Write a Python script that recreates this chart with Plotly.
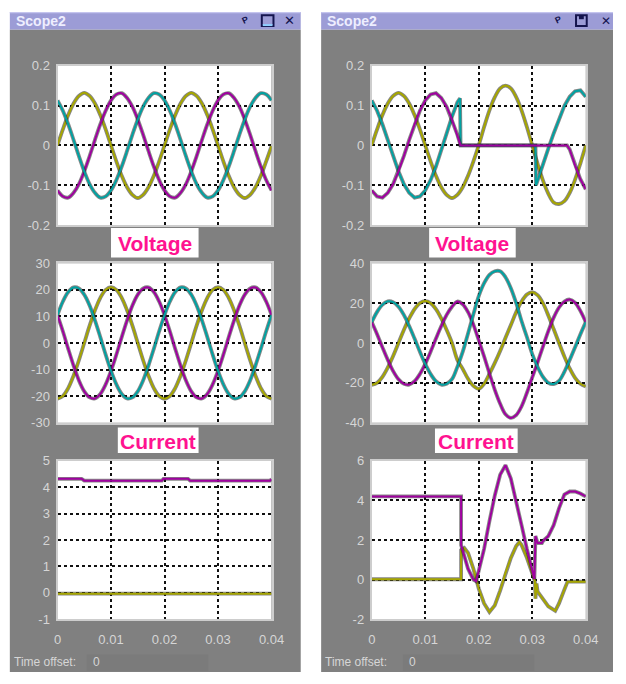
import plotly.graph_objects as go

W, H = 626, 684

# ---------------- data ----------------
T = [0.000, 0.001, 0.002, 0.003, 0.004, 0.005, 0.006, 0.007, 0.008, 0.009,
     0.010, 0.011, 0.012, 0.013, 0.014, 0.015, 0.016, 0.017, 0.018, 0.019,
     0.020, 0.021, 0.022, 0.023, 0.024, 0.025, 0.026, 0.027, 0.028, 0.029,
     0.030, 0.031, 0.032, 0.033, 0.034, 0.035, 0.036, 0.037, 0.038, 0.039,
     0.040]

# Left scope - Voltage
LV_YEL = [0, 0.040, 0.076, 0.105, 0.124, 0.132, 0.124, 0.105, 0.076, 0.040,
          0, -0.040, -0.076, -0.105, -0.124, -0.132, -0.124, -0.105, -0.076, -0.040,
          0, 0.040, 0.076, 0.105, 0.124, 0.132, 0.124, 0.105, 0.076, 0.040,
          0, -0.040, -0.076, -0.105, -0.124, -0.132, -0.124, -0.105, -0.076, -0.040,
          -0.002]
LV_MAG = [-0.113, -0.128, -0.131, -0.119, -0.097, -0.065, -0.027, 0.014, 0.053, 0.087,
          0.113, 0.128, 0.131, 0.119, 0.097, 0.065, 0.027, -0.014, -0.053, -0.087,
          -0.113, -0.128, -0.131, -0.119, -0.097, -0.065, -0.027, 0.014, 0.053, 0.087,
          0.113, 0.128, 0.131, 0.119, 0.097, 0.065, 0.027, -0.014, -0.053, -0.087,
          -0.113]
LV_CYA = [0.113, 0.087, 0.053, 0.014, -0.027, -0.065, -0.097, -0.119, -0.131, -0.128,
          -0.113, -0.087, -0.053, -0.014, 0.027, 0.065, 0.097, 0.119, 0.131, 0.128,
          0.113, 0.087, 0.053, 0.014, -0.027, -0.065, -0.097, -0.119, -0.131, -0.128,
          -0.113, -0.087, -0.053, -0.014, 0.027, 0.065, 0.097, 0.119, 0.131, 0.128,
          0.113]

# Left scope - Current
LC_YEL = [-21, -20.0, -17.0, -12.3, -6.5, 0, 6.5, 12.3, 17.0, 20.0,
          21, 20.0, 17.0, 12.3, 6.5, 0, -6.5, -12.3, -17.0, -20.0,
          -21, -20.0, -17.0, -12.3, -6.5, 0, 6.5, 12.3, 17.0, 20.0,
          21, 20.0, 17.0, 12.3, 6.5, 0, -6.5, -12.3, -17.0, -20.0,
          -21]
LC_MAG = [10.5, 4.4, -2.2, -8.5, -14.1, -18.2, -20.5, -20.9, -19.2, -15.6,
          -10.5, -4.4, 2.2, 8.5, 14.1, 18.2, 20.5, 20.9, 19.2, 15.6,
          10.5, 4.4, -2.2, -8.5, -14.1, -18.2, -20.5, -20.9, -19.2, -15.6,
          -10.5, -4.4, 2.2, 8.5, 14.1, 18.2, 20.5, 20.9, 19.2, 15.6,
          10.5]
LC_CYA = [10.5, 15.6, 19.2, 20.9, 20.5, 18.2, 14.1, 8.5, 2.2, -4.4,
          -10.5, -15.6, -19.2, -20.9, -20.5, -18.2, -14.1, -8.5, -2.2, 4.4,
          10.5, 15.6, 19.2, 20.9, 20.5, 18.2, 14.1, 8.5, 2.2, -4.4,
          -10.5, -15.6, -19.2, -20.9, -20.5, -18.2, -14.1, -8.5, -2.2, 4.4,
          10.5]

# Left scope - third signal
LB_T_MAG = [0, 0.0045, 0.005, 0.0195, 0.0198, 0.0244, 0.0248, 0.0397, 0.040]
LB_MAG = [4.32, 4.32, 4.25, 4.25, 4.32, 4.32, 4.25, 4.25, 4.3]
LB_T_YEL = [0, 0.040]
LB_YEL = [-0.03, -0.03]

# Right scope - Voltage
RV_YEL = [0, 0.040, 0.076, 0.105, 0.124, 0.132, 0.124, 0.105, 0.076, 0.040,
          0, -0.040, -0.076, -0.105, -0.124, -0.132, -0.124, -0.105, -0.076, -0.040,
          0, 0.046, 0.088, 0.121, 0.143, 0.150, 0.143, 0.121, 0.088, 0.046,
          0, -0.046, -0.088, -0.121, -0.143, -0.147, -0.140, -0.119, -0.086, -0.045,
          0.0]
RV_T_MAG = [0.000, 0.001, 0.002, 0.003, 0.004, 0.005, 0.006, 0.007, 0.008, 0.009,
            0.010, 0.011, 0.012, 0.013, 0.014, 0.015, 0.016, 0.0166, 0.0365, 0.037,
            0.038, 0.039, 0.040]
RV_MAG = [-0.113, -0.128, -0.131, -0.119, -0.097, -0.065, -0.027, 0.014, 0.053, 0.087,
          0.113, 0.128, 0.131, 0.119, 0.097, 0.065, 0.027, 0.0, 0.0, -0.010,
          -0.050, -0.085, -0.110]
RV_T_CYA = [0.000, 0.001, 0.002, 0.003, 0.004, 0.005, 0.006, 0.007, 0.008, 0.009,
            0.010, 0.011, 0.012, 0.013, 0.014, 0.015, 0.016, 0.0165, 0.0166, 0.0306,
            0.0307, 0.031, 0.032, 0.033, 0.034, 0.035, 0.036, 0.037, 0.038, 0.039,
            0.040]
RV_CYA = [0.113, 0.087, 0.053, 0.014, -0.027, -0.065, -0.097, -0.119, -0.131, -0.128,
          -0.113, -0.087, -0.053, -0.014, 0.030, 0.072, 0.108, 0.118, 0.0, 0.0,
          -0.100, -0.088, -0.045, -0.008, 0.030, 0.067, 0.099, 0.122, 0.136, 0.138,
          0.122]

# Right scope - Current
RC_YEL = [-21, -20.0, -17.0, -12.3, -6.5, 0, 6.5, 12.3, 17.0, 20.0,
          21, 20.0, 17.0, 12.3, 6.5, 0, -8.5, -13.0, -18.0, -21.5,
          -23.0, -20.5, -15.5, -10.0, -4.0, 2.6, 9.0, 15.5, 20.8, 24.3,
          25.5, 24.0, 20.0, 13.8, 7.0, 0.0, -6.8, -12.8, -17.5, -20.5,
          -21.8]
RC_MAG = [10.5, 4.4, -2.2, -8.5, -14.1, -18.2, -20.5, -20.9, -19.2, -15.6,
          -10.5, -4.4, 2.2, 8.5, 14.1, 18.2, 20.8, 19.4, 15.5, 9.2,
          1.4, -6.7, -15.3, -23.5, -30.5, -35.8, -37.6, -36.2, -31.8, -25.0,
          -17.3, -9.7, -1.8, 5.9, 12.7, 17.8, 20.8, 21.8, 20.2, 16.1,
          10.5]
RC_CYA = [10.5, 15.6, 19.2, 20.9, 20.5, 18.2, 14.1, 8.5, 2.2, -4.4,
          -10.5, -15.6, -19.2, -20.9, -20.5, -18.2, -12.0, -4.5, 4.8, 14.4,
          23.5, 30.0, 34.2, 36.0, 36.0, 33.0, 27.5, 20.0, 11.0, 3.0,
          -5.6, -12.0, -17.0, -20.0, -20.6, -19.0, -14.5, -8.5, -2.2, 4.4,
          10.5]

# Right scope - third signal
RB_T_MAG = [0, 0.0167, 0.0167, 0.0175, 0.018, 0.019, 0.0195, 0.020, 0.021, 0.022,
            0.023, 0.024, 0.025, 0.026, 0.027, 0.028, 0.029, 0.030, 0.0304, 0.0306,
            0.031, 0.0318, 0.032, 0.033, 0.034, 0.035, 0.036, 0.037, 0.038, 0.039,
            0.040]
RB_MAG = [4.2, 4.2, 1.75, 1.0, 0.55, 0.0, -0.08, 0.45, 1.55, 2.95,
          4.25, 5.3, 5.78, 5.1, 4.0, 2.75, 1.55, 0.55, 0.03, 2.2,
          1.85, 1.85, 1.95, 2.2, 2.75, 3.6, 4.3, 4.45, 4.45, 4.35,
          4.2]
RB_T_YEL = [0, 0.0167, 0.0167, 0.0173, 0.018, 0.019, 0.020, 0.021, 0.022, 0.023,
            0.024, 0.025, 0.026, 0.027, 0.0276, 0.028, 0.029, 0.030, 0.0305, 0.0306,
            0.0308, 0.031, 0.032, 0.033, 0.0343, 0.035, 0.036, 0.0366, 0.040]
RB_YEL = [0.02, 0.02, 1.5, 1.6, 1.35, 0.55, -0.45, -1.2, -1.63, -1.3,
          -0.55, 0.35, 1.1, 1.7, 1.9, 1.75, 1.1, 0.32, -0.08, -0.96,
          -0.2, -0.6, -1.0, -1.35, -1.57, -1.2, -0.5, -0.1, -0.1]

# tick labels
X_TICKS = [0, 0.01, 0.02, 0.03, 0.04]
X_TEXT = ['0', '0.01', '0.02', '0.03', '0.04']
V_TICKS = [-0.2, -0.1, 0, 0.1, 0.2]
V_TEXT = ['-0.2', '-0.1', '0', '0.1', '0.2']
LC_TICKS = [-30, -20, -10, 0, 10, 20, 30]
LC_TEXT = ['-30', '-20', '-10', '0', '10', '20', '30']
LB_TICKS = [-1, 0, 1, 2, 3, 4, 5]
LB_TEXT = ['-1', '0', '1', '2', '3', '4', '5']
RC_TICKS = [-40, -20, 0, 20, 40]
RC_TEXT = ['-40', '-20', '0', '20', '40']
RB_TICKS = [-2, 0, 2, 4, 6]
RB_TEXT = ['-2', '0', '2', '4', '6']

WINDOW_TITLES = ['Scope2', 'Scope2']
PANEL_LABELS = ['Voltage', 'Current']
TIME_OFFSET_LABEL = 'Time offset:'
TIME_OFFSET_VALUE = '0'

# ---------------- styling ----------------
YEL = '#a6a600'
MAG = '#a000a0'
CYA = '#00a2a2'
EDGE = '#262626'
PANEL_GRAY = '#808080'
TITLE_BAR = '#9c9cd6'
TICK_COLOR = '#d6d6d6'
LABEL_PINK = '#ff1290'
NAVY = '#14144e'


def px_x(p):
    return p / W


def px_y(p):
    return 1 - p / H


shapes = []
annotations = []


def rect(x0, y0, x1, y1, fill, line=None, lw=0):
    shapes.append(dict(type='rect', xref='paper', yref='paper',
                       x0=px_x(x0), x1=px_x(x1), y0=px_y(y1), y1=px_y(y0),
                       fillcolor=fill, line=dict(color=line or fill, width=lw),
                       layer='below'))


def text(x, y, s, size, color, xanchor='center', bold=False,
         family='Arial', angle=0):
    annotations.append(dict(xref='paper', yref='paper', x=px_x(x), y=px_y(y),
                            text=('<b>%s</b>' % s) if bold else s,
                            showarrow=False, xanchor=xanchor, yanchor='middle',
                            textangle=angle,
                            font=dict(size=size, color=color, family=family)))


# ---------------- window chrome ----------------
for wi, (wx0, wx1) in enumerate([(6, 305), (326, 626)]):
    rect(wx0, 23, wx1, 680, PANEL_GRAY)
    rect(wx0, 5, wx1, 23, TITLE_BAR)
    rect(wx0, 5, wx1, 6.5, '#c4c4ee')
    text(wx0 + 4, 14.5, WINDOW_TITLES[wi], 14, '#eeeeff', xanchor='left', bold=True)

# title bar icons (left window)
text(248, 13, 'P', 9, NAVY, bold=True, angle=-25)
rect(265, 8.5, 277, 19.5, TITLE_BAR, NAVY, 2)
rect(266, 17.5, 276, 19.5, '#8fd0ff')
text(293, 14, '✕', 13, NAVY, bold=True, family='DejaVu Sans')
# title bar icons (right window)
text(569, 13, 'P', 9, NAVY, bold=True, angle=-25)
rect(588, 8.5, 599, 19.5, TITLE_BAR, NAVY, 2)
rect(591, 8.5, 596, 12.5, NAVY)
text(619, 14, '✕', 12, NAVY, bold=True, family='DejaVu Sans')

# time offset strips
for tx, fx0, fx1 in [(8, 85, 210), (328, 410, 545)]:
    rect(fx0, 662, fx1, 679, '#7b7b7b')
    text(tx, 670, TIME_OFFSET_LABEL, 12, TICK_COLOR, xanchor='left')
    text(fx0 + 4, 670, TIME_OFFSET_VALUE, 12, TICK_COLOR, xanchor='left')

# labels between plots
for (bx0, by0, bx1, by1), lab in [((110, 226, 200, 256), PANEL_LABELS[0]),
                                  ((117, 430, 200, 456), PANEL_LABELS[1]),
                                  ((437, 226, 526, 256), PANEL_LABELS[0]),
                                  ((443, 431, 528, 456), PANEL_LABELS[1])]:
    rect(bx0, by0, bx1, by1, 'white')
    text((bx0 + bx1) / 2, (by0 + by1) / 2 + 1, lab, 21, LABEL_PINK, bold=True)

# ---------------- panels ----------------
LEFT = (55, 275)
RIGHT = (378, 598)
ROWS = [(60, 223), (262, 425), (464, 626)]

panels = [
    (LEFT, ROWS[0], [-0.2, 0.2], V_TICKS, V_TEXT, False,
     [(T, LV_YEL, YEL, 'spline'), (T, LV_MAG, MAG, 'spline'), (T, LV_CYA, CYA, 'spline')]),
    (LEFT, ROWS[1], [-30, 30], LC_TICKS, LC_TEXT, False,
     [(T, LC_YEL, YEL, 'spline'), (T, LC_MAG, MAG, 'spline'), (T, LC_CYA, CYA, 'spline')]),
    (LEFT, ROWS[2], [-1, 5], LB_TICKS, LB_TEXT, True,
     [(LB_T_YEL, LB_YEL, YEL, 'linear'), (LB_T_MAG, LB_MAG, MAG, 'linear')]),
    (RIGHT, ROWS[0], [-0.2, 0.2], V_TICKS, V_TEXT, False,
     [(T, RV_YEL, YEL, 'spline'), (RV_T_CYA, RV_CYA, CYA, 'linear'), (RV_T_MAG, RV_MAG, MAG, 'linear')]),
    (RIGHT, ROWS[1], [-40, 40], RC_TICKS, RC_TEXT, False,
     [(T, RC_YEL, YEL, 'spline'), (T, RC_MAG, MAG, 'spline'), (T, RC_CYA, CYA, 'spline')]),
    (RIGHT, ROWS[2], [-2, 6], RB_TICKS, RB_TEXT, True,
     [(RB_T_YEL, RB_YEL, YEL, 'linear'), (RB_T_MAG, RB_MAG, MAG, 'linear')]),
]

fig = go.Figure()
axes = {}
tickfont = dict(family='Arial', size=13, color=TICK_COLOR)

for i, ((x0, x1), (y0, y1), yr, yt, ytt, showx, traces) in enumerate(panels, start=1):
    sfx = '' if i == 1 else str(i)
    rect(x0, y0, x1, y1, 'white')
    common = dict(showgrid=True, gridcolor='#111111', griddash='dot', gridwidth=2,
                  showline=True, linecolor='#cdcdcd', linewidth=2, mirror=True,
                  zeroline=False, ticks='', tickfont=tickfont, fixedrange=True)
    axes['xaxis' + sfx] = dict(domain=[px_x(x0), px_x(x1)], range=[0, 0.04],
                               anchor='y' + sfx, tickvals=X_TICKS, ticktext=X_TEXT,
                               showticklabels=showx, ticklabelstandoff=7, **common)
    axes['yaxis' + sfx] = dict(domain=[px_y(y1), px_y(y0)], range=yr,
                               anchor='x' + sfx, tickvals=yt, ticktext=ytt,
                               showticklabels=True, ticklabelstandoff=3, **common)
    for tx, ty, col, shp in traces:
        # dark fringe under each trace, as on the scope screen
        fig.add_trace(go.Scatter(x=tx, y=ty, xaxis='x' + sfx, yaxis='y' + sfx,
                                 mode='lines', opacity=0.55,
                                 line=dict(color=EDGE, width=3.8, shape=shp),
                                 hoverinfo='skip', showlegend=False))
        fig.add_trace(go.Scatter(x=tx, y=ty, xaxis='x' + sfx, yaxis='y' + sfx,
                                 mode='lines',
                                 line=dict(color=col, width=2.0, shape=shp),
                                 hoverinfo='skip', showlegend=False))

fig.update_layout(width=W, height=H, margin=dict(l=0, r=0, t=0, b=0),
                  paper_bgcolor='white', plot_bgcolor='white',
                  shapes=shapes, annotations=annotations, showlegend=False,
                  **axes)

fig.write_html("out.html", config={'displayModeBar': False},
               post_script="document.body.style.margin='0px';")
